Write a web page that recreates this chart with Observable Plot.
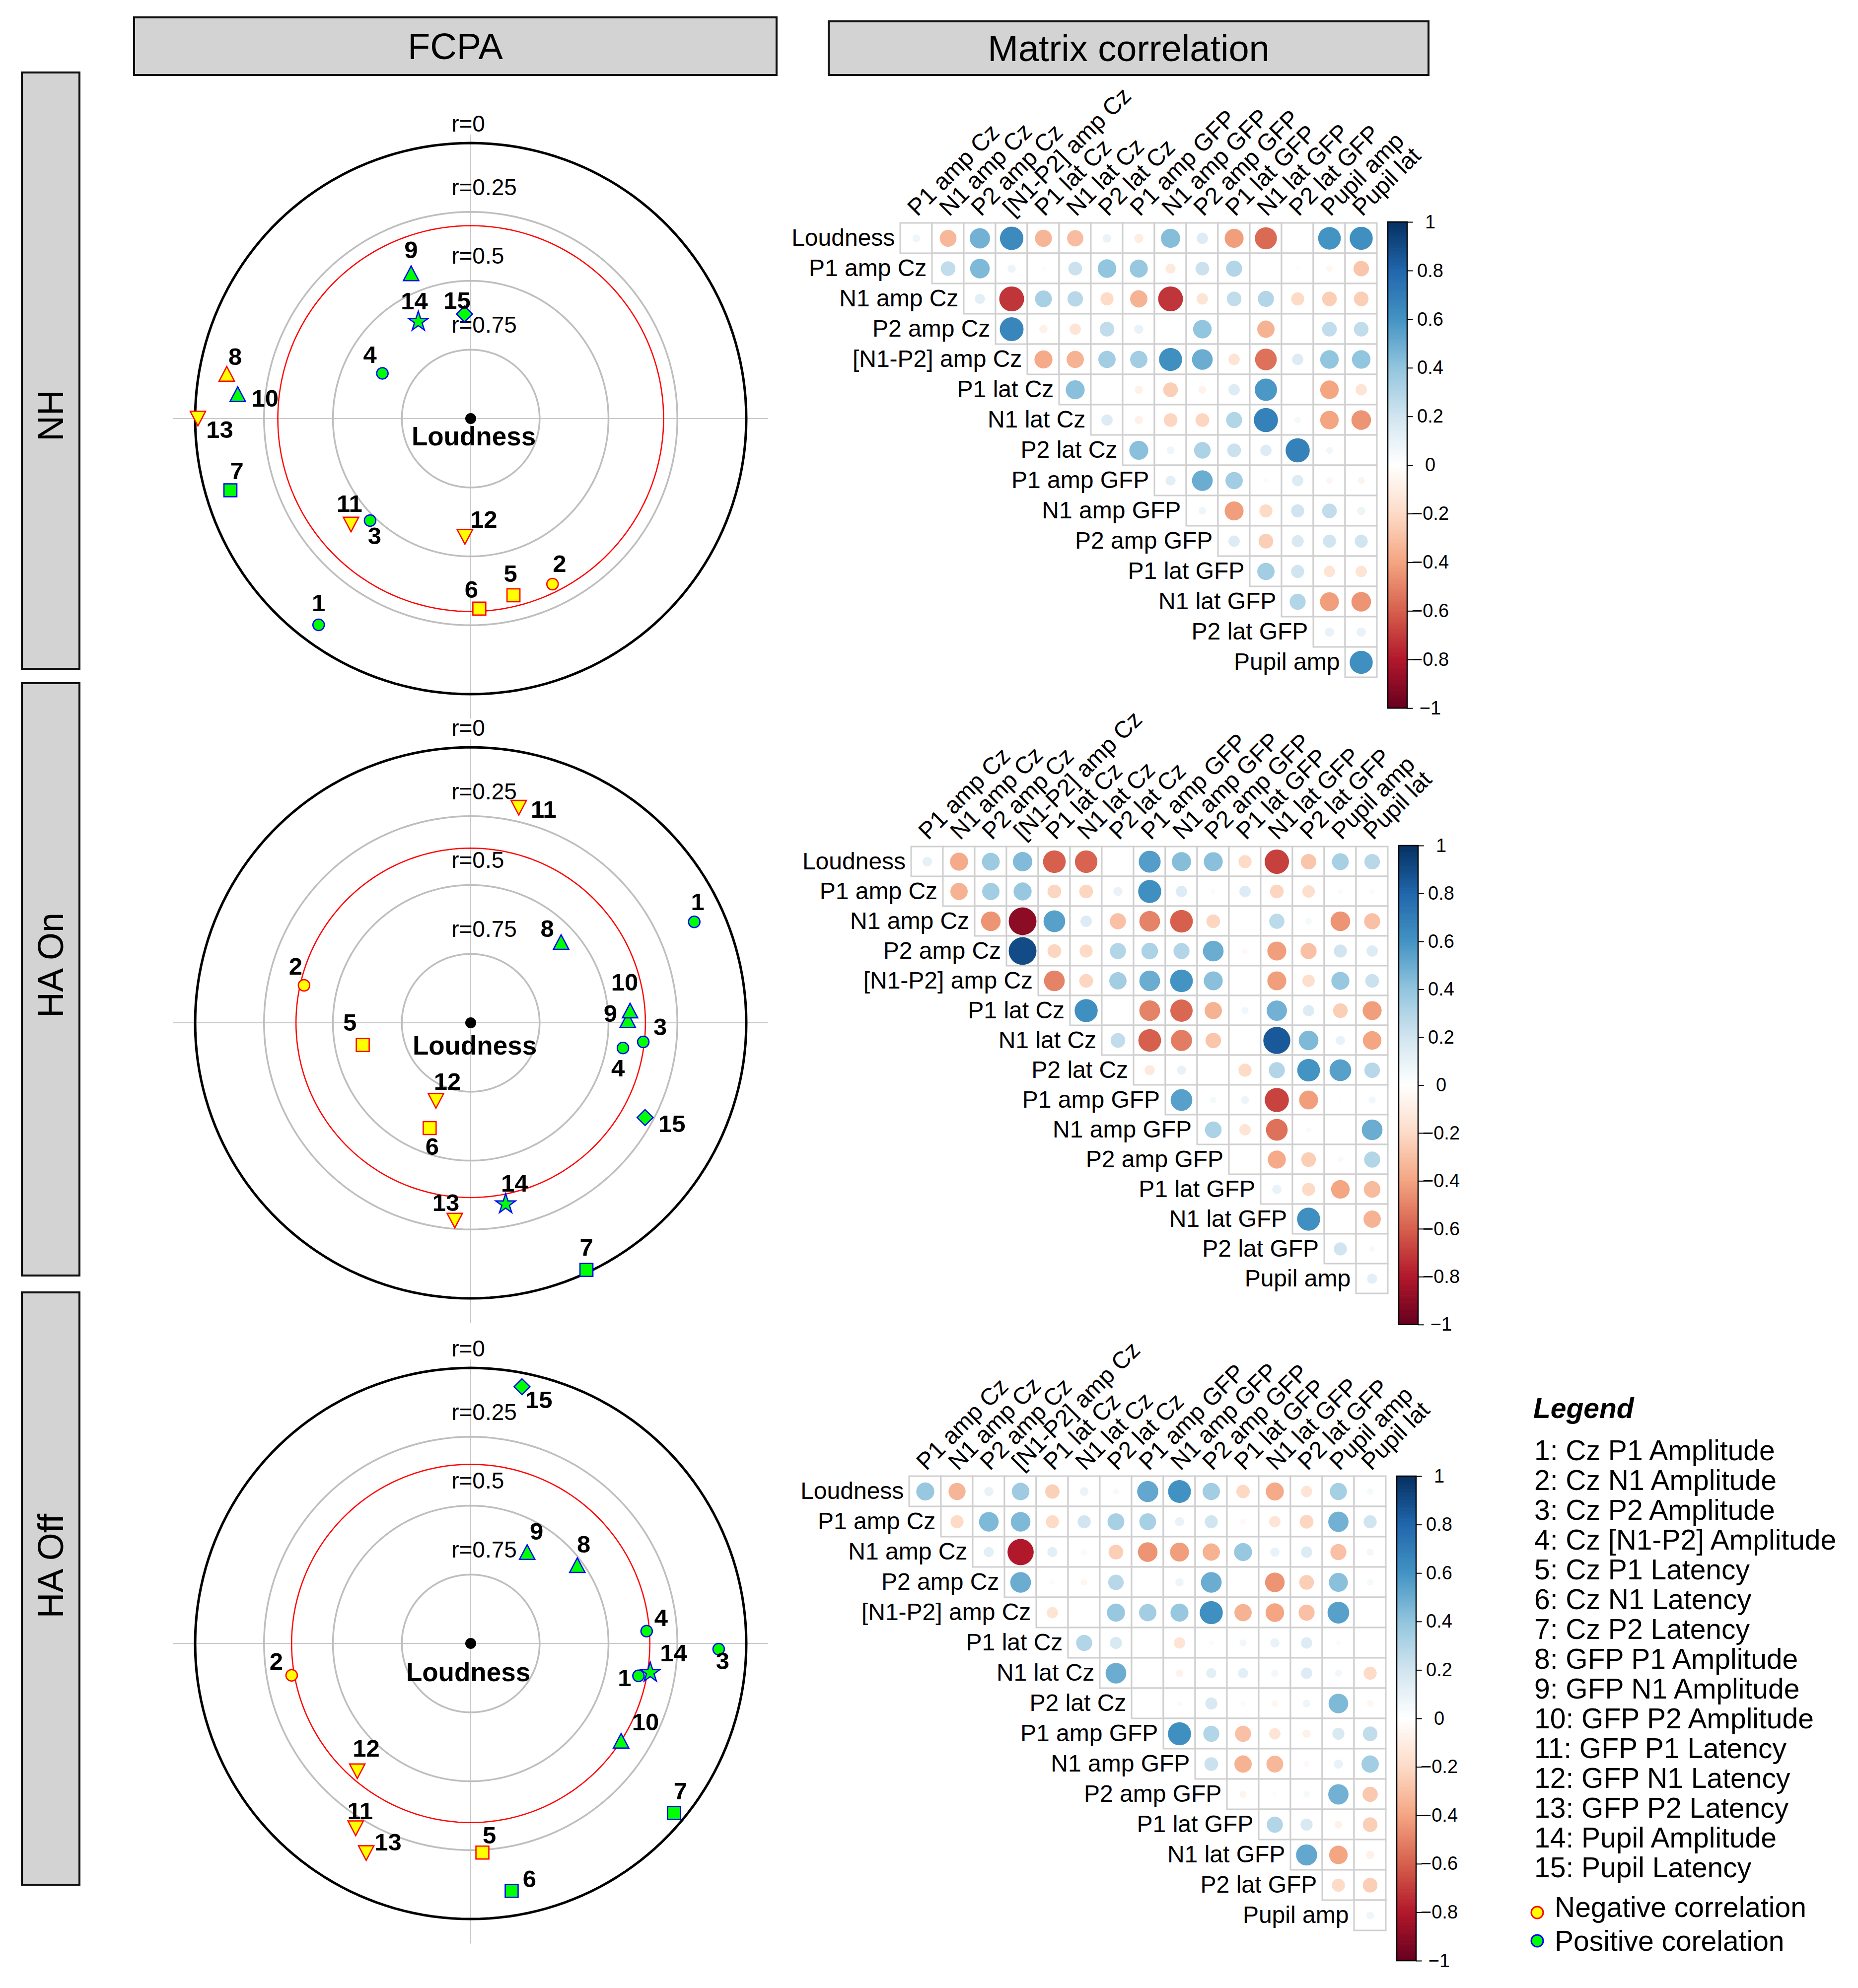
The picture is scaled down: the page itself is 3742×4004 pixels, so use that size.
<!DOCTYPE html>
<html><head><meta charset="utf-8">
<script src="https://cdn.jsdelivr.net/npm/d3@7"></script>
<script src="https://cdn.jsdelivr.net/npm/@observablehq/plot@0.6"></script>
<style>
html,body{margin:0;padding:0;background:#fff;}
#root{position:relative;width:3742px;height:4004px;background:#fff;font-family:"Liberation Sans",Arial,Helvetica,sans-serif;overflow:hidden;color:#000;}
.box{position:absolute;box-sizing:border-box;background:#d3d3d3;border:4px solid #111;display:flex;align-items:center;justify-content:center;font-size:74px;}
.strip{display:block;}
.strip span{position:absolute;left:50%;transform:translate(-50%,-50%) rotate(-90deg);white-space:nowrap;display:block;font-size:72px;}
.abs{position:absolute;}
.leg{position:absolute;font-size:57px;line-height:60px;white-space:nowrap;}
</style></head><body><div id="root"></div><script>
// ---------------- DATA ----------------
const panels = ["NH", "HA On", "HA Off"];
const matrixRows = ["Loudness","P1 amp Cz","N1 amp Cz","P2 amp Cz","[N1-P2] amp Cz","P1 lat Cz","N1 lat Cz","P2 lat Cz","P1 amp GFP","N1 amp GFP","P2 amp GFP","P1 lat GFP","N1 lat GFP","P2 lat GFP","Pupil amp"];
const matrixCols = ["P1 amp Cz","N1 amp Cz","P2 amp Cz","[N1-P2] amp Cz","P1 lat Cz","N1 lat Cz","P2 lat Cz","P1 amp GFP","N1 amp GFP","P2 amp GFP","P1 lat GFP","N1 lat GFP","P2 lat GFP","Pupil amp","Pupil lat"];
const legendNames = ["Cz P1 Amplitude","Cz N1 Amplitude","Cz P2 Amplitude","Cz [N1-P2] Amplitude","Cz P1 Latency","Cz N1 Latency","Cz P2 Latency","GFP P1 Amplitude","GFP N1 Amplitude","GFP P2 Amplitude","GFP P1 Latency","GFP N1 Latency","GFP P2 Latency","Pupil Amplitude","Pupil Latency"];
const ringLevels = [0, 0.25, 0.5, 0.75];
const colorTicks = [1, 0.8, 0.6, 0.4, 0.2, 0, -0.2, -0.4, -0.6, -0.8, -1];

// correlation of each variable with Loudness (also row 1 of the matrix)
const nhR    = [0.07, -0.33, 0.48, 0.64, -0.34, -0.31, 0.09, -0.10, 0.43, 0.15, -0.42, -0.57, -0.01, 0.60, 0.62];
const haOnR  = [0.11, -0.38, 0.37, 0.44, -0.60, -0.59, 0.01, 0.56, 0.43, 0.42, -0.20, -0.69, -0.28, 0.33, 0.28];
const haOffR = [0.38, -0.34, 0.10, 0.36, -0.24, 0.09, 0.04, 0.52, 0.61, 0.35, -0.21, -0.38, -0.15, 0.34, 0.05];
// FCPA angular position (degrees)
const nhAngle    = [233.6, 296.3, 225.4, 152.9, 283.6, 272.6, 196.6, 169.6, 112.3, 174.0, 221.5, 267.2, 180.0, 118.4, 93.4];
const haOnAngle  = [24.3, 167.3, 353.7, 350.6, 191.6, 248.7, 295.1, 41.8, 1.0, 4.4, 77.4, 246.0, 265.4, 280.9, 331.5];
const haOffAngle = [349.1, 190.1, 358.7, 4.0, 273.2, 279.4, 320.2, 36.3, 58.3, 327.1, 238.1, 228.4, 243.5, 350.8, 78.7];
// significance threshold (red circle)
const nhThreshold = 0.30, haOnThreshold = 0.366, haOffThreshold = 0.35;

// remaining rows of the upper-triangular correlation matrices (row i starts at column i)
const nhCorr = [
  [0.25, 0.45, 0.08, 0.02, 0.22, 0.40, 0.38, -0.12, 0.22, 0.30, 0.01, -0.02, -0.05, -0.28],
  [0.12, -0.72, 0.33, 0.28, -0.20, -0.35, -0.72, -0.15, 0.25, 0.30, -0.20, -0.25, -0.25],
  [0.66, -0.08, -0.15, 0.25, 0.10, 0.01, 0.40, 0.00, -0.35, 0.00, 0.25, 0.25],
  [-0.38, -0.35, 0.35, 0.35, 0.62, 0.50, -0.15, -0.55, 0.15, 0.40, 0.40],
  [0.42, 0.00, -0.08, -0.25, -0.07, 0.15, 0.58, 0.00, -0.40, -0.15],
  [0.15, -0.08, -0.22, -0.22, 0.30, 0.68, 0.05, -0.40, -0.45],
  [0.42, 0.07, 0.32, 0.22, 0.15, 0.68, 0.06, 0.00],
  [0.12, 0.50, 0.35, -0.03, 0.15, -0.05, -0.06],
  [0.07, -0.42, -0.20, 0.20, 0.25, 0.08],
  [0.15, -0.25, 0.17, 0.20, 0.20],
  [0.35, 0.20, -0.15, -0.15],
  [0.30, -0.42, -0.45],
  [0.10, 0.10],
  [0.62]
];
const haOnCorr = [
  [-0.35, 0.35, 0.38, -0.22, -0.22, 0.10, 0.62, 0.15, -0.03, 0.15, -0.22, -0.18, -0.03, 0.03],
  [-0.45, -0.90, 0.55, 0.15, -0.30, -0.50, -0.60, -0.22, 0.01, 0.27, 0.05, -0.45, -0.30],
  [0.90, -0.22, -0.20, 0.30, 0.32, 0.30, 0.50, -0.04, -0.42, -0.30, 0.20, 0.15],
  [-0.50, -0.22, 0.35, 0.50, 0.60, 0.42, -0.01, -0.42, -0.18, 0.38, 0.22],
  [0.62, 0.01, -0.50, -0.58, -0.35, 0.06, 0.48, 0.15, -0.25, -0.42],
  [0.25, -0.60, -0.52, -0.28, 0.01, 0.85, 0.45, 0.10, -0.40],
  [-0.12, 0.10, 0.00, -0.20, 0.30, 0.60, 0.55, 0.28],
  [0.55, 0.05, 0.08, -0.68, -0.42, -0.01, 0.06],
  [0.32, -0.15, -0.55, 0.03, 0.00, 0.50],
  [0.01, -0.38, -0.25, 0.04, 0.30],
  [0.10, -0.20, -0.40, -0.32],
  [0.62, 0.01, -0.35],
  [0.20, 0.04],
  [0.12]
];
const haOffCorr = [
  [-0.20, 0.45, 0.45, -0.20, 0.20, 0.33, 0.33, 0.10, 0.20, -0.04, -0.15, -0.22, 0.48, 0.20],
  [0.12, -0.80, 0.12, -0.04, -0.25, -0.45, -0.42, -0.35, 0.38, 0.10, 0.15, -0.30, 0.06],
  [0.50, -0.03, -0.05, 0.28, 0.00, 0.08, 0.50, 0.01, -0.45, -0.25, 0.42, 0.05],
  [-0.15, 0.00, 0.38, 0.35, 0.38, 0.62, -0.35, -0.40, -0.30, 0.55, 0.01],
  [0.30, 0.17, 0.00, -0.15, -0.03, 0.06, 0.10, 0.15, -0.03, 0.00],
  [0.50, 0.00, -0.07, 0.12, 0.12, 0.06, 0.15, 0.06, -0.20],
  [0.00, 0.03, 0.17, -0.03, -0.05, 0.07, 0.45, -0.05],
  [0.62, 0.30, -0.30, -0.15, -0.08, 0.17, 0.25],
  [0.22, -0.35, -0.33, -0.04, 0.10, 0.35],
  [-0.06, -0.02, 0.05, 0.48, -0.27],
  [0.30, 0.17, -0.07, -0.25],
  [0.52, -0.40, -0.08],
  [-0.20, -0.25],
  [0.07]
];

// ---------------- STYLE / LAYOUT ----------------
const nhNudge    = [[0,-43],[14,-40],[9,32],[-25,-37],[-6,-43],[-16,-37],[13,-38],[17,-34],[0,-46],[55,10],[-3,-41],[38,-34],[44,23],[-8,-41],[-15,-26]];
const haOnNudge  = [[7,-40],[-17,-37],[34,-29],[-10,41],[-26,-44],[5,38],[0,-44],[-28,-26],[-35,-12],[-11,-56],[50,5],[23,-38],[-18,-35],[18,-41],[54,14]];
const haOffNudge = [[-28,5],[-31,-27],[8,25],[29,-26],[14,-34],[36,-23],[13,-43],[13,-41],[19,-41],[49,-37],[9,-34],[18,-45],[44,-21],[47,-38],[34,27]];
const SHAPE = ["circle","circle","circle","circle","square","square","square","up","up","up","down","down","down","star","diamond"];
const SYM = {
  circle: "circle",
  square: {draw(c, s) { const r = Math.sqrt(s / Math.PI); c.moveTo(-r, -r); c.lineTo(r, -r); c.lineTo(r, r); c.lineTo(-r, r); c.closePath(); }},
  up: {draw(c, s) { const a = Math.sqrt(s / Math.PI), H = 1.9 * a; c.moveTo(0, -H / 2); c.lineTo(a, H / 2); c.lineTo(-a, H / 2); c.closePath(); }},
  down: {draw(c, s) { const a = Math.sqrt(s / Math.PI), H = 1.9 * a; c.moveTo(0, H / 2); c.lineTo(a, -H / 2); c.lineTo(-a, -H / 2); c.closePath(); }},
  star: {draw(c, s) { const R = Math.sqrt(s / Math.PI); d3.symbolStar.draw(c, R * R / 0.8908130915292852); }},
  diamond: {draw(c, s) { const d = Math.sqrt(s / Math.PI); c.moveTo(0, -d); c.lineTo(d, 0); c.lineTo(0, d); c.lineTo(-d, 0); c.closePath(); }}
};
const SIZE = {circle: 11.5, square: 13, up: 15.5, down: 15.5, star: 21, diamond: 16};
const FONT = '"Liberation Sans", Arial, Helvetica, sans-serif';
const corrStops = [-1, -0.8, -0.6, -0.4, -0.2, 0, 0.2, 0.4, 0.6, 0.8, 1];
const corrColors = ["#67001F","#B2182B","#D6604D","#F4A582","#FDDBC7","#FFFFFF","#D1E5F0","#92C5DE","#4393C3","#2166AC","#053061"];
const colorScale = {type: "linear", domain: corrStops, range: corrColors};

const root = document.getElementById("root");
function place(node, left, top) {
  const d = document.createElement("div");
  d.className = "abs"; d.style.left = left + "px"; d.style.top = top + "px";
  d.appendChild(node); root.appendChild(d); return d;
}
const svgStyle = {maxWidth: "none", background: "transparent", overflow: "visible", fontFamily: FONT};

// ---------------- FCPA polar plots ----------------
const PX = 555;
function fcpa(r, angle, nudge, threshold, cx, cy, loudOff) {
  const pts = r.map((v, i) => {
    const d = 1 - Math.abs(v), a = angle[i] * Math.PI / 180;
    const x = d * Math.cos(a), y = d * Math.sin(a);
    return {id: String(i + 1), shape: SHAPE[i], neg: v < 0, x, y,
            lx: x + nudge[i][0] / PX, ly: y - nudge[i][1] / PX};
  });
  const ring = (lev) => d3.range(0, 361, 2).map(t => ({lev, x: (1 - lev) * Math.cos(t * Math.PI / 180), y: (1 - lev) * Math.sin(t * Math.PI / 180)}));
  const greyRings = ringLevels.filter(l => l > 0).flatMap(ring);
  const outer = ring(0);
  const red = ring(threshold);
  const marks = [
    Plot.ruleY([0], {x1: -1.08, x2: 1.08, stroke: "#c9c9c9", strokeWidth: 2}),
    Plot.ruleX([0], {y1: -1.09, y2: 1.03, stroke: "#c9c9c9", strokeWidth: 2}),
    Plot.line(greyRings, {x: "x", y: "y", z: "lev", stroke: "#bebebe", strokeWidth: 3.5}),
    Plot.line(red, {x: "x", y: "y", stroke: "#ff0000", strokeWidth: 2.5}),
    Plot.line(outer, {x: "x", y: "y", stroke: "#000", strokeWidth: 5}),
    Plot.text(ringLevels, {x: -0.07, y: d => 1 - d + (d === 0 ? 0.068 : 0.088), text: d => "r=" + d, textAnchor: "start", fontSize: 46, fill: "#000"}),
    Plot.dot([0], {x: 0, y: 0, r: 11, fill: "#000"}),
    Plot.text(["Loudness"], {x: 0, y: 0, text: d => d, dx: loudOff[0], dy: loudOff[1], fontSize: 53, fontWeight: "bold", fill: "#000"})
  ];
  for (const s of Object.keys(SYM)) for (const neg of [false, true]) {
    const sub = pts.filter(p => p.shape === s && p.neg === neg);
    if (!sub.length) continue;
    marks.push(Plot.dot(sub, {x: "x", y: "y", symbol: SYM[s], r: SIZE[s],
      fill: neg ? "#ffff00" : "#00ff00", stroke: neg ? "#ff0000" : "#0000ff", strokeWidth: 2.5}));
  }
  marks.push(Plot.text(pts, {x: "lx", y: "ly", text: "id", fontSize: 49, fontWeight: "bold", fill: "#000"}));
  const W = 2.2 * PX, H = 2.24 * PX;
  const svg = Plot.plot({
    width: W, height: H, margin: 0,
    x: {domain: [-1.1, 1.1], axis: null}, y: {domain: [-1.12, 1.12], axis: null},
    style: svgStyle, marks
  });
  place(svg, cx - W / 2, cy - H / 2);
}

// ---------------- correlation matrices ----------------
function corrMatrix(loud, corr, left, top, cw, ch, barLeft) {
  const cells = [];
  matrixRows.forEach((row, i) => {
    const vals = i === 0 ? loud : corr[i - 1];
    vals.forEach((v, k) => cells.push({row, col: matrixCols[i + k], v}));
  });
  const mL = 320, mT = 320, mR = 5, mB = 5;
  const svg = Plot.plot({
    width: mL + 15 * cw + mR, height: mT + 15 * ch + mB,
    marginLeft: mL, marginTop: mT, marginRight: mR, marginBottom: mB,
    x: {type: "band", domain: matrixCols, padding: 0, axis: null},
    y: {type: "band", domain: matrixRows, padding: 0, axis: null},
    r: {type: "sqrt", domain: [0, 1], range: [0, 29.5]},
    color: colorScale,
    style: svgStyle,
    marks: [
      Plot.cell(cells, {x: "col", y: "row", fill: "white", stroke: "#cfcfcf", strokeWidth: 3}),
      Plot.dot(cells, {x: "col", y: "row", r: d => Math.abs(d.v), fill: "v"}),
      Plot.text(matrixRows, {x: (d, i) => matrixCols[i], y: d => d, text: d => d, textAnchor: "end", dx: -(cw / 2 + 11), fontSize: 48, fill: "#000"}),
      Plot.text(matrixCols, {x: d => d, text: d => d, frameAnchor: "top", rotate: -45, textAnchor: "start", lineAnchor: "bottom", dx: 2, dy: -10, fontSize: 48, fill: "#000"})
    ]
  });
  place(svg, left - mL, top - mT);
  // colour bar
  const bw = 39, BW = 150, m = 30, bh = 16 * ch;
  const step = 0.005;
  const ramp = d3.range(-1, 1, step);
  const fmt = d => d === 0 ? "0" : (d < 0 ? "\u2212" : "") + String(Math.abs(d));
  const bar = Plot.plot({
    width: BW, height: bh + 2 * m, marginLeft: 0, marginRight: 0, marginTop: m, marginBottom: m,
    x: {domain: [0, BW / bw], axis: null}, y: {domain: [-1, 1], axis: null},
    color: colorScale, style: svgStyle,
    marks: [
      Plot.rect(ramp, {x1: 0, x2: 1, y1: d => d, y2: d => Math.min(1, d + step * 1.3), fill: d => d + step / 2}),
      Plot.rect([0], {x1: 0, x2: 1, y1: -1, y2: 1, fill: "none", stroke: "#000", strokeWidth: 2.5}),
      Plot.ruleY(colorTicks, {x1: 1, x2: 1.3, stroke: "#000", strokeWidth: 2}),
      Plot.text(colorTicks, {x: 2.18, y: d => d, text: fmt, fontSize: 38, fill: "#000"})
    ]
  });
  place(bar, barLeft, top - m);
}

// ---------------- frame: headers, strips ----------------
function box(text, left, top, w, h) {
  const d = document.createElement("div");
  d.className = "box";
  Object.assign(d.style, {left: left + "px", top: top + "px", width: w + "px", height: h + "px"});
  d.textContent = text;
  root.appendChild(d);
}
function strip(text, top, h, textCy) {
  const d = document.createElement("div");
  d.className = "box strip";
  Object.assign(d.style, {left: "42px", top: top + "px", width: "120px", height: h + "px"});
  const s = document.createElement("span");
  s.textContent = text; s.style.top = (textCy - top) + "px";
  d.appendChild(s); root.appendChild(d);
}
box("FCPA", 268, 33, 1298, 120);
box("Matrix correlation", 1667, 41, 1212, 112);
strip(panels[0], 144, 1205, 833);
strip(panels[1], 1374, 1197, 1940);
strip(panels[2], 2601, 1197, 3150);

fcpa(nhR, nhAngle, nhNudge, nhThreshold, 947, 843, [6, 37]);
fcpa(haOnR, haOnAngle, haOnNudge, haOnThreshold, 947, 2060, [8, 47]);
fcpa(haOffR, haOffAngle, haOffNudge, haOffThreshold, 947, 3310, [-5, 59]);

corrMatrix(nhR, nhCorr, 1811, 447, 64.3, 61.2, 2795);
corrMatrix(haOnR, haOnCorr, 1829, 1703, 64.8, 60.3, 2817);
corrMatrix(haOffR, haOffCorr, 1829, 2973, 64.3, 61.0, 2813);

// ---------------- legend ----------------
function legText(txt, left, cy, extra) {
  const d = document.createElement("div");
  d.className = "leg"; d.textContent = txt;
  Object.assign(d.style, {left: left + "px", top: (cy - 30) + "px"}, extra || {});
  root.appendChild(d);
}
legText("Legend", 3088, 2836, {fontWeight: "bold", fontStyle: "italic"});
legendNames.forEach((n, i) => legText((i + 1) + ": " + n, 3090, 2921 + 60 * i));
function legMarker(cx, cy, fill, stroke) {
  const ns = "http://www.w3.org/2000/svg";
  const s = document.createElementNS(ns, "svg");
  s.setAttribute("width", 34); s.setAttribute("height", 34);
  const c = document.createElementNS(ns, "circle");
  c.setAttribute("cx", 17); c.setAttribute("cy", 17); c.setAttribute("r", 12);
  c.setAttribute("fill", fill); c.setAttribute("stroke", stroke); c.setAttribute("stroke-width", 3);
  s.appendChild(c); place(s, cx - 17, cy - 17);
}
legMarker(3096, 3852, "#ffff00", "#ff0000");
legMarker(3096, 3909, "#00ff00", "#0000ff");
legText("Negative correlation", 3131, 3841);
legText("Positive corelation", 3131, 3909);
</script></body></html>
